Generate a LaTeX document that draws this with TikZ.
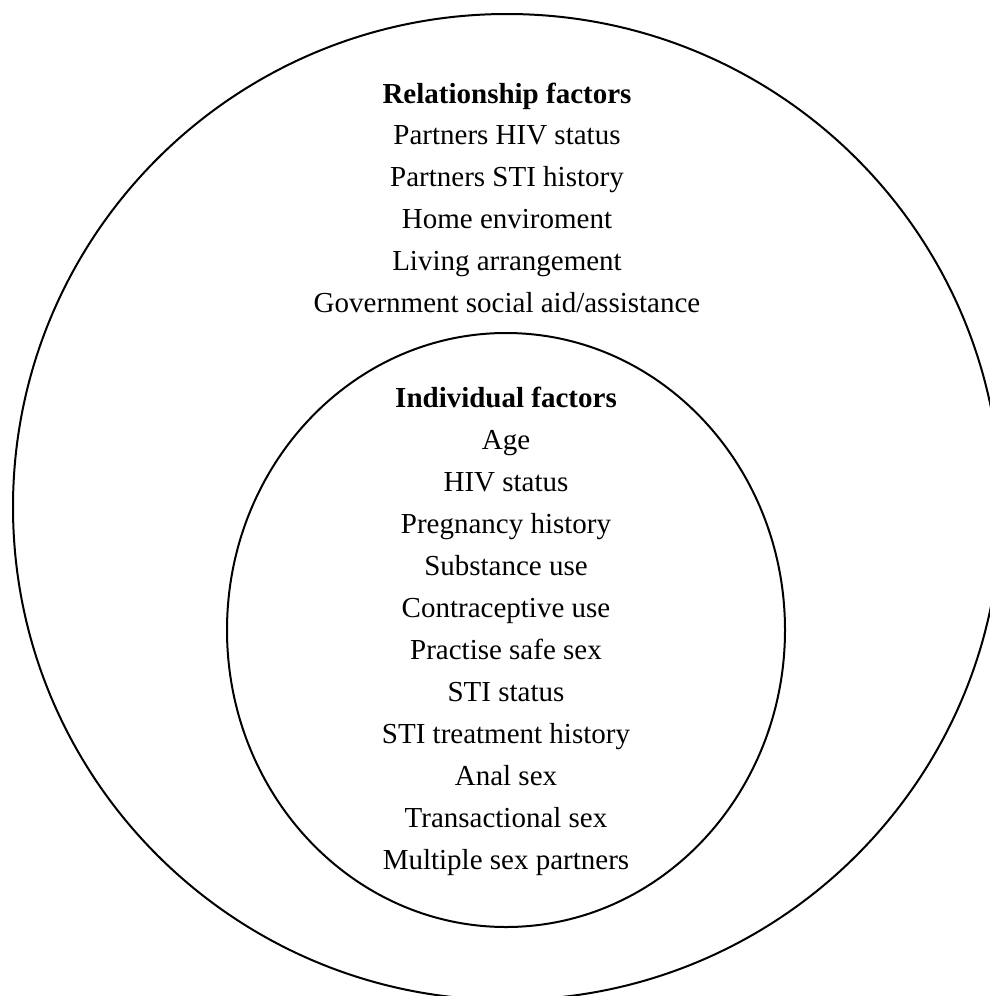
\documentclass[tikz,border=0pt]{standalone}
\usepackage{fontspec}
\setmainfont{Liberation Serif}
\usepackage{tikz}
\tikzset{every picture/.style={line width=2pt}}

\begin{document}
\begin{tikzpicture}[x=1pt,y=1pt,yscale=-1,xscale=1]
\useasboundingbox (0,0) rectangle (989,996);

%Shape: Ellipse [outer]
\draw  (507,507) ellipse (494 and 493) ;
%Shape: Ellipse [inner]
\draw  (506,630) ellipse (279 and 297) ;

% Text Node
\node (relation) [align=center,inner sep=0pt,font={\fontsize{29}{41.8}\selectfont}] at (507,197.5)
  {\textbf{Relationship factors}\\ Partners HIV status\\ Partners STI history\\ Home enviroment\\ Living arrangement\\ Government social aid/assistance};
% Text Node
\node (individual) [align=center,inner sep=0pt,font={\fontsize{29}{42}\selectfont}] at (506,631)
  {\textbf{Individual factors}\\ Age\\ HIV status\\ Pregnancy history\\ Substance use\\ Contraceptive use\\ Practise safe sex\\ STI status\\ STI treatment history\\ Anal sex\\ Transactional sex\\ Multiple sex partners};

\end{tikzpicture}
\end{document}
